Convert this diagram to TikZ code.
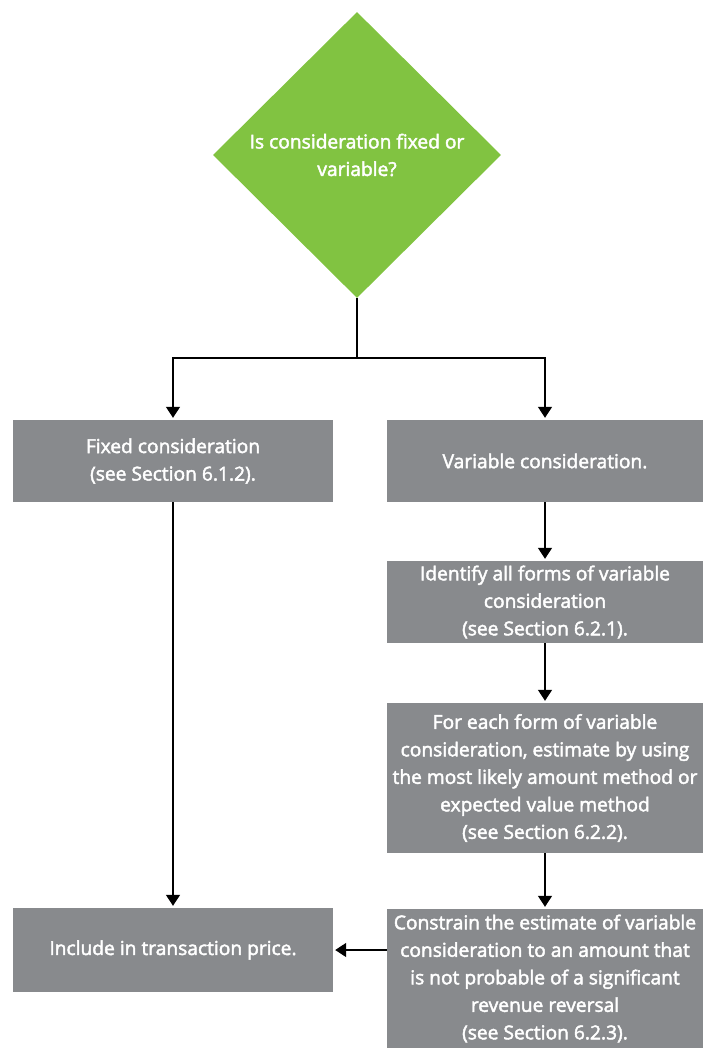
\documentclass[tikz,border=0pt]{standalone}
\usepackage{fontspec}
\setmainfont{Open Sans}
\usetikzlibrary{shapes.geometric,arrows.meta}
\definecolor{dgreen}{HTML}{81C341}
\definecolor{dgray}{HTML}{888A8D}
\begin{document}
\begin{tikzpicture}[x=1pt,y=1pt,
  font=\fontsize{19.2}{27.5}\selectfont,
  semib/.style={execute at begin node={\special{pdf:literal direct 2 Tr 0.45 w}},
                execute at end node={\special{pdf:literal direct 0 Tr}}},
  box/.style={rectangle,fill=dgray,text=white,align=center,inner sep=0pt,anchor=center,semib},
  conn/.style={line width=1.5pt,black},
  arr/.style={conn,-{Triangle[width=14pt,length=11pt]},shorten >=2pt}]
\useasboundingbox (0,0) rectangle (703,-1048);
\node[diamond,fill=dgreen,text=white,align=center,minimum width=288pt,minimum height=286pt,inner sep=0pt,semib] (dec) at (357,-155) {Is consideration fixed or\\variable?};
\node[box,minimum width=320pt,minimum height=82pt] (fixed) at (173,-461) {Fixed consideration\\(see Section 6.1.2).};
\node[box,minimum width=316pt,minimum height=82pt] (var) at (545,-461) {Variable consideration.};
\node[box,minimum width=316pt,minimum height=82pt] (ident) at (545,-602) {Identify all forms of variable\\consideration\\(see Section 6.2.1).};
\node[box,minimum width=316pt,minimum height=150pt] (each) at (545,-778) {For each form of variable\\consideration, estimate by using\\the most likely amount method or\\expected value method\\(see Section 6.2.2).};
\node[box,minimum width=316pt,minimum height=139pt] (cons) at (545,-978.5) {Constrain the estimate of variable\\consideration to an amount that\\is not probable of a significant\\revenue reversal\\(see Section 6.2.3).};
\node[box,minimum width=320pt,minimum height=84pt] (incl) at (173,-950) {Include in transaction price.};
\coordinate (j) at (357,-358);
\draw[conn] (dec.south) -- (j);
\draw[arr] (j) -| (fixed.north);
\draw[arr] (j) -| (var.north);
\draw[arr] (var.south) -- (ident.north);
\draw[arr] (ident.south) -- (each.north);
\draw[arr] (each.south) -- (cons.north);
\draw[arr] (fixed.south) -- (incl.north);
\draw[arr] (cons.west |- incl.east) -- (incl.east);
\end{tikzpicture}
\end{document}
